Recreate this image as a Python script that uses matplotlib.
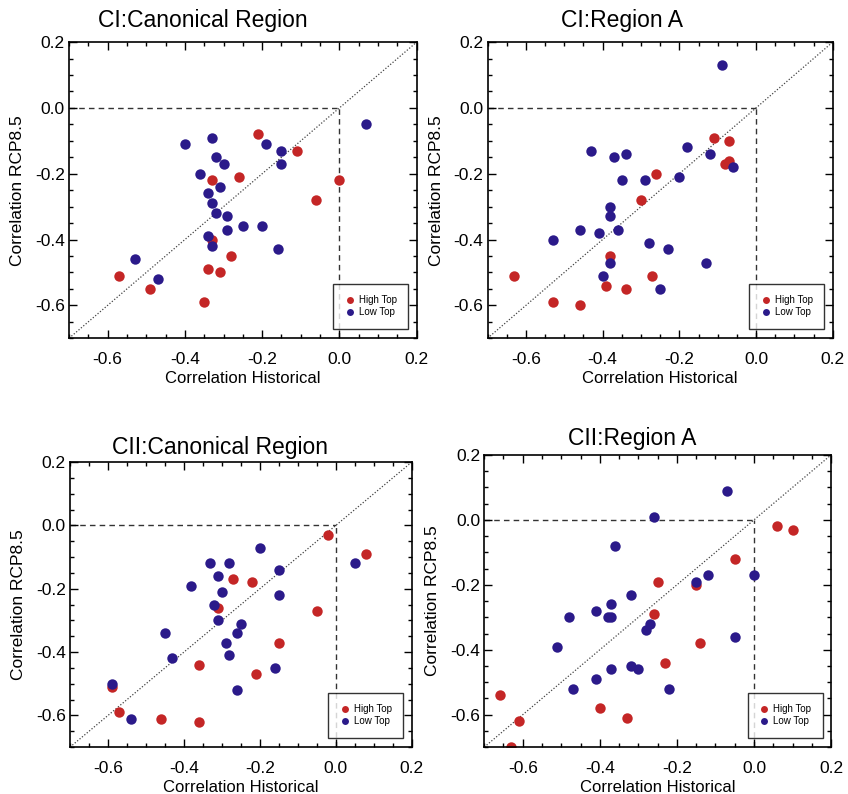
import matplotlib
matplotlib.use("Agg")
from matplotlib import pyplot as plt
from matplotlib.ticker import MultipleLocator, FormatStrFormatter
from matplotlib.lines import Line2D

plt.rcParams['font.family'] = ['Liberation Sans', 'DejaVu Sans']

RED = '#c42626'
BLUE = '#2b1a8a'

titles = ["CI:Canonical Region", "CI:Region A", "CII:Canonical Region", "CII:Region A"]

# CI canonical region
ci_can_high_x = [-0.21, -0.11, -0.26, -0.33, 0.00, -0.06, -0.33, -0.28, -0.34, -0.31, -0.57, -0.49, -0.35]
ci_can_high_y = [-0.08, -0.13, -0.21, -0.22, -0.22, -0.28, -0.40, -0.45, -0.49, -0.50, -0.51, -0.55, -0.59]
ci_can_low_x = [0.07, -0.33, -0.40, -0.19, -0.15, -0.32, -0.30, -0.15, -0.36, -0.31, -0.34,
                -0.33, -0.32, -0.29, -0.29, -0.25, -0.20, -0.34, -0.33, -0.16, -0.53, -0.47]
ci_can_low_y = [-0.05, -0.09, -0.11, -0.11, -0.13, -0.15, -0.17, -0.17, -0.20, -0.24, -0.26,
                -0.29, -0.32, -0.33, -0.37, -0.36, -0.36, -0.39, -0.42, -0.43, -0.46, -0.52]

# CI region A
ci_a_high_x = [-0.11, -0.07, -0.07, -0.08, -0.26, -0.30, -0.38, -0.63, -0.27, -0.39, -0.34, -0.53, -0.46]
ci_a_high_y = [-0.09, -0.10, -0.16, -0.17, -0.20, -0.28, -0.45, -0.51, -0.51, -0.54, -0.55, -0.59, -0.60]
ci_a_low_x = [-0.09, -0.43, -0.37, -0.34, -0.18, -0.12, -0.06, -0.20, -0.35, -0.29, -0.38,
              -0.38, -0.46, -0.41, -0.36, -0.53, -0.28, -0.23, -0.38, -0.13, -0.40, -0.25]
ci_a_low_y = [0.13, -0.13, -0.15, -0.14, -0.12, -0.14, -0.18, -0.21, -0.22, -0.22, -0.30,
              -0.33, -0.37, -0.38, -0.37, -0.40, -0.41, -0.43, -0.47, -0.47, -0.51, -0.55]

# CII canonical region
cii_can_high_x = [-0.02, 0.08, -0.27, -0.22, -0.31, -0.05, -0.15, -0.36, -0.21, -0.59, -0.57, -0.46, -0.36]
cii_can_high_y = [-0.03, -0.09, -0.17, -0.18, -0.26, -0.27, -0.37, -0.44, -0.47, -0.51, -0.59, -0.61, -0.62]
cii_can_low_x = [-0.20, -0.33, -0.28, 0.05, -0.15, -0.31, -0.38, -0.30, -0.15, -0.32, -0.31,
                 -0.25, -0.26, -0.45, -0.29, -0.28, -0.43, -0.16, -0.59, -0.26, -0.54]
cii_can_low_y = [-0.07, -0.12, -0.12, -0.12, -0.14, -0.16, -0.19, -0.21, -0.22, -0.25, -0.30,
                 -0.31, -0.34, -0.34, -0.37, -0.41, -0.42, -0.45, -0.50, -0.52, -0.61]

# CII region A
cii_a_high_x = [0.06, 0.10, -0.05, -0.25, -0.15, -0.26, -0.14, -0.23, -0.66, -0.40, -0.61, -0.33, -0.63]
cii_a_high_y = [-0.02, -0.03, -0.12, -0.19, -0.20, -0.29, -0.38, -0.44, -0.54, -0.58, -0.62, -0.61, -0.70]
cii_a_low_x = [-0.07, -0.26, -0.36, -0.15, -0.12, 0.00, -0.32, -0.37, -0.41, -0.38, -0.37,
               -0.48, -0.27, -0.28, -0.05, -0.51, -0.32, -0.37, -0.30, -0.41, -0.47, -0.22]
cii_a_low_y = [0.09, 0.01, -0.08, -0.19, -0.17, -0.17, -0.23, -0.26, -0.28, -0.30, -0.30,
               -0.30, -0.32, -0.34, -0.36, -0.39, -0.45, -0.46, -0.46, -0.49, -0.52, -0.52]

panels = [
    (ci_can_high_x, ci_can_high_y, ci_can_low_x, ci_can_low_y),
    (ci_a_high_x, ci_a_high_y, ci_a_low_x, ci_a_low_y),
    (cii_can_high_x, cii_can_high_y, cii_can_low_x, cii_can_low_y),
    (cii_a_high_x, cii_a_high_y, cii_a_low_x, cii_a_low_y),
]

# axes rectangles in figure fractions, title x offset and title pad
boxes = [
    [0.0814, 0.574, 0.410, 0.373],
    [0.575, 0.574, 0.407, 0.373],
    [0.0825, 0.059, 0.403, 0.359],
    [0.571, 0.059, 0.409, 0.368],
]
title_x = [0.385, 0.388, 0.44, 0.427]
title_pad = [11, 11, 6, 7]

fig = plt.figure(figsize=(8.48, 7.94), dpi=100)

for i, (hx, hy, lx, ly) in enumerate(panels):
    ax = fig.add_axes(boxes[i])
    ax.set_xlim(-0.7, 0.2)
    ax.set_ylim(-0.7, 0.2)

    ax.plot([-0.7, 0.2], [-0.7, 0.2], color='#444444', linestyle=(0, (1, 1.5)), lw=0.9, zorder=1)
    ax.plot([-0.7, 0.0], [0.0, 0.0], color='#333333', linestyle=(0, (4, 3)), lw=1.0, zorder=1)
    ax.plot([0.0, 0.0], [-0.7, 0.0], color='#333333', linestyle=(0, (4, 3)), lw=1.0, zorder=1)

    ax.plot(hx, hy, 'o', color=RED, markersize=7.5, markeredgewidth=0, zorder=2)
    ax.plot(lx, ly, 'o', color=BLUE, markersize=7.5, markeredgewidth=0, zorder=3)

    ax.xaxis.set_major_locator(MultipleLocator(0.2))
    ax.yaxis.set_major_locator(MultipleLocator(0.2))
    ax.xaxis.set_minor_locator(MultipleLocator(0.05))
    ax.yaxis.set_minor_locator(MultipleLocator(0.05))
    ax.xaxis.set_major_formatter(FormatStrFormatter('%.1f'))
    ax.yaxis.set_major_formatter(FormatStrFormatter('%.1f'))
    ax.tick_params(which='both', direction='in', top=True, right=True, labelsize=12.5)
    ax.tick_params(axis='x', pad=10)
    ax.tick_params(axis='y', pad=3)
    ax.tick_params(which='major', length=6, width=1)
    ax.tick_params(which='minor', length=3, width=1)
    for s in ax.spines.values():
        s.set_linewidth(1.2)

    ax.set_xlabel("Correlation Historical", fontsize=12, labelpad=3)
    ax.set_ylabel("Correlation RCP8.5", fontsize=12.5, labelpad=7)
    ax.set_title(titles[i], fontsize=16.5, x=title_x[i], pad=title_pad[i])

    handles = [
        Line2D([], [], marker='o', linestyle='none', color=RED, markersize=5, markeredgewidth=0),
        Line2D([], [], marker='o', linestyle='none', color=BLUE, markersize=5, markeredgewidth=0),
    ]
    leg = ax.legend(handles, ["High Top", "Low Top"], loc='lower right', fontsize=7,
                    frameon=True, fancybox=False, edgecolor='black', handletextpad=0.4,
                    handlelength=1.0, borderpad=1.2, labelspacing=0.2,
                    bbox_to_anchor=(0.99, 0.015))
    leg.get_frame().set_linewidth(1.0)

fig.savefig("out.png", dpi=100)
